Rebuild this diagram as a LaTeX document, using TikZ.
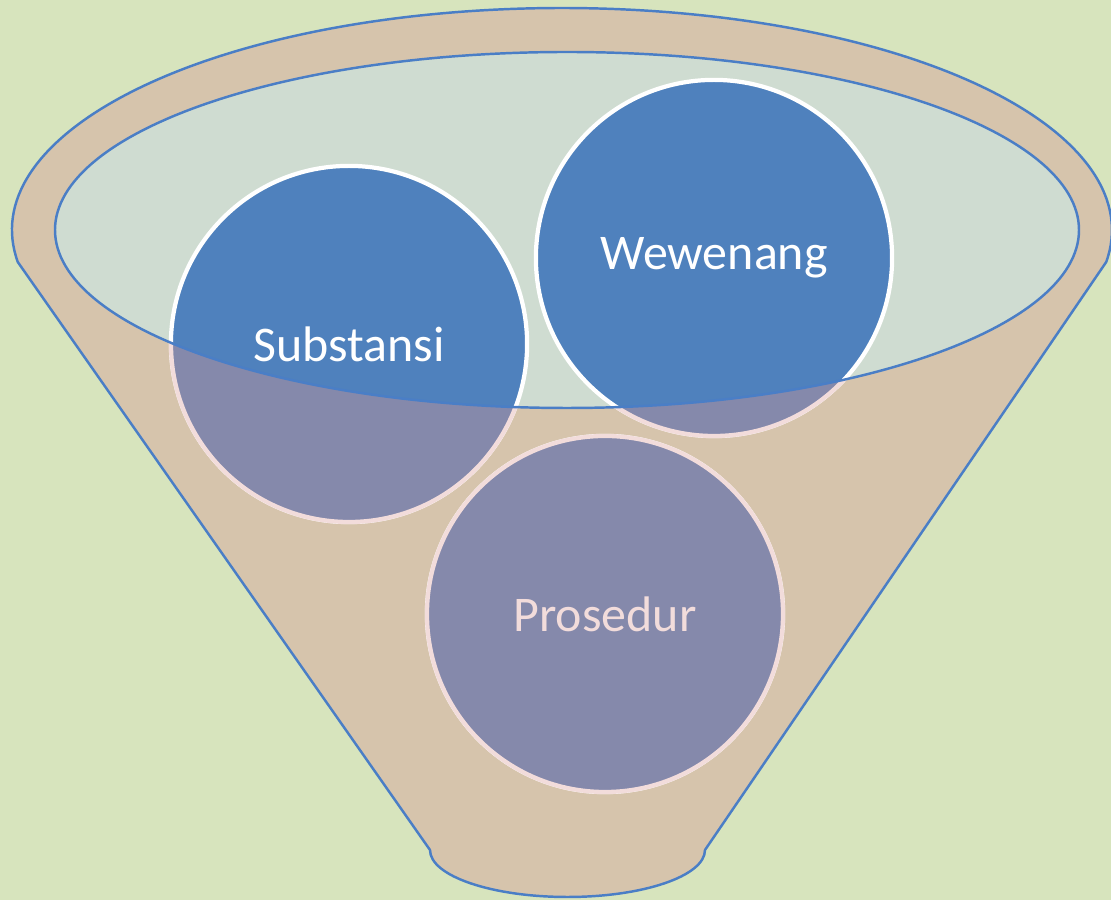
\documentclass[tikz,border=0pt]{standalone}
\usepackage{fontspec}
\setmainfont{Carlito}
\definecolor{bgGreen}{HTML}{D7E4BD}
\definecolor{funnelBrown}{HTML}{D6C4AC}
\definecolor{openTeal}{HTML}{CFDCD1}
\definecolor{ballBlue}{HTML}{4F81BD}
\definecolor{ballLow}{HTML}{8589AB}
\definecolor{lowRim}{HTML}{F2DCDB}
\definecolor{rimBlue}{HTML}{4A7EC6}
\tikzset{
  rim/.style={draw=rimBlue, line width=0.7pt},
  ball/.style={circle, minimum size=3.56cm, inner sep=0pt, fill=ballBlue, draw=white, line width=1.2pt},
  lowball/.style={fill=ballLow, draw=lowRim, line width=1.2pt},
  lbl/.style={font=\fontsize{14.2}{17}\selectfont, text=white}
}
\begin{document}
\begin{tikzpicture}[x=0.01cm, y=0.01cm]
\useasboundingbox (0,0) rectangle (1111,900);

% background
\fill[bgGreen] (0,0) rectangle (1111,900);

% funnel body
\draw[rim, fill=funnelBrown] (562,670) ++(188.3:550 and 222) arc[start angle=188.3, end angle=-8.3, x radius=550, y radius=222]
  -- (705,50) arc[start angle=0, end angle=-180, x radius=137.5, y radius=47] -- cycle;

% opening
\fill[openTeal] (567,670) ellipse [x radius=512, y radius=178];

% balls
\foreach \name/\cx/\cy in {sub/349/556, wew/714/642, pro/605/286}
  \node[ball] (\name) at (\cx,\cy) {};

% part of the balls below the opening
\begin{scope}[even odd rule]
  \clip (0,0) rectangle (1111,900) (567,670) ellipse [x radius=512, y radius=178];
  \foreach \name in {sub, wew, pro}
    \draw[lowball] (\name) circle (178);
\end{scope}
\draw[rim] (567,670) ellipse [x radius=512, y radius=178];

% labels
\node[lbl] (subT) at (sub) {Substansi};
\node[lbl] (wewT) at (wew) {Wewenang};
\node[lbl, text=lowRim] (proT) at (pro) {Prosedur};

\end{tikzpicture}
\end{document}
